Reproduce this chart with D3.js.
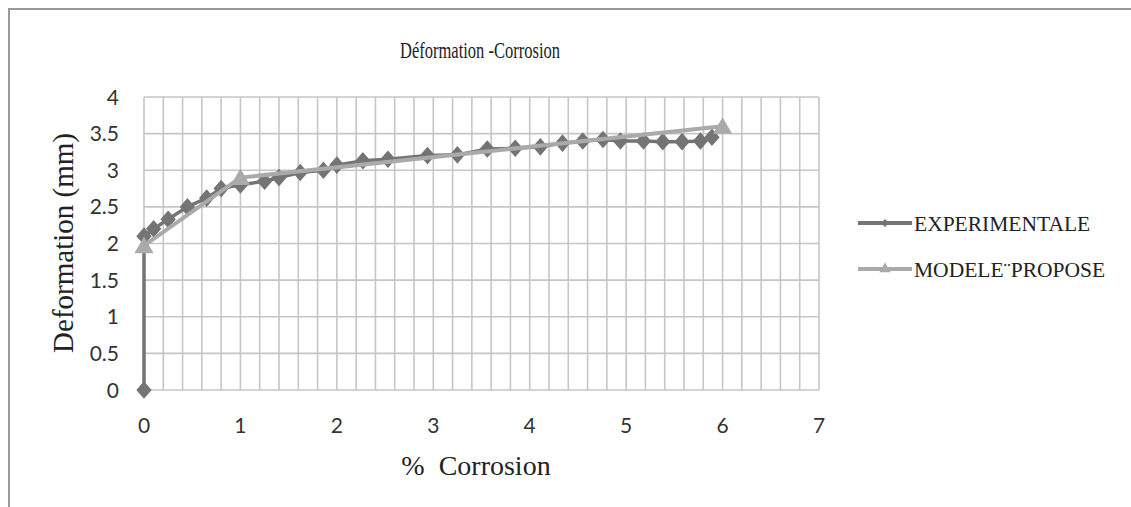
<!DOCTYPE html>
<html lang="fr">
<head>
  <meta charset="utf-8">
  <title>Déformation -Corrosion</title>
  <script src="https://d3js.org/d3.v7.min.js"></script>
  <style>
    * { margin: 0; padding: 0; }
    html, body { width: 1131px; height: 507px; background: #fff; overflow: hidden; }
    svg { display: block; }
    .serif { font-family: "Liberation Serif", "DejaVu Serif", serif; fill: #222; }
    .tick-lbl { font-family: Lato, "Open Sans", sans-serif; font-size: 21px; fill: #333; }
  </style>
</head>
<body>
<svg id="chart" width="1131" height="507"></svg>
<script>
  // Experimental measurements: % corrosion vs deformation (mm)
  const expX = [0, 0, 0.1, 0.25, 0.45, 0.65, 0.8, 1.0, 1.25, 1.4, 1.62, 1.86, 2.0, 2.27, 2.53, 2.94,
                3.25, 3.56, 3.85, 4.11, 4.34, 4.55, 4.76, 4.94, 5.18, 5.38, 5.58, 5.77, 5.89];
  const expY = [0, 2.1, 2.2, 2.33, 2.5, 2.62, 2.75, 2.8, 2.85, 2.9, 2.97, 3.0, 3.07, 3.13, 3.15, 3.2,
                3.21, 3.29, 3.3, 3.32, 3.37, 3.4, 3.42, 3.4, 3.4, 3.39, 3.39, 3.4, 3.45];

  // Proposed model
  const modX = [0, 1, 6];
  const modY = [1.97, 2.9, 3.6];

  const xTicks = [0, 1, 2, 3, 4, 5, 6, 7];
  const yTicks = [0, 0.5, 1, 1.5, 2, 2.5, 3, 3.5, 4];
  const seriesNames = ["EXPERIMENTALE", "MODELE\u00a8PROPOSE"];

  const svg = d3.select("#chart");
  const x = d3.scaleLinear().domain([0, 7]).range([144, 819]);
  const y = d3.scaleLinear().domain([0, 4]).range([390, 97]);

  // chart frame (only left and top edges are visible)
  svg.append("path")
    .attr("d", "M9,507 V9 H1131")
    .attr("fill", "none").attr("stroke", "#999").attr("stroke-width", 2);

  // grid: vertical lines every 0.2, horizontal every 0.5
  const grid = svg.append("g").attr("stroke", "#c6c6c6").attr("stroke-width", 1.6);
  grid.selectAll("line.v").data(d3.range(0, 36).map(i => i * 0.2))
    .join("line").attr("class", "v")
    .attr("x1", d => x(d)).attr("x2", d => x(d))
    .attr("y1", y(0)).attr("y2", y(4));
  grid.selectAll("line.h").data(yTicks)
    .join("line").attr("class", "h")
    .attr("x1", x(0)).attr("x2", x(7))
    .attr("y1", d => y(d)).attr("y2", d => y(d));

  // tick labels
  svg.append("g").selectAll("text").data(yTicks).join("text")
    .attr("class", "tick-lbl")
    .attr("x", 119).attr("y", d => y(d)).attr("dy", "0.36em")
    .attr("text-anchor", "end").text(d => d);
  svg.append("g").selectAll("text").data(xTicks).join("text")
    .attr("class", "tick-lbl")
    .attr("x", d => x(d)).attr("y", 433)
    .attr("text-anchor", "middle").text(d => d);

  // titles
  svg.append("text").attr("class", "serif")
    .attr("x", 400).attr("y", 58)
    .attr("font-size", 23)
    .attr("textLength", 160).attr("lengthAdjust", "spacingAndGlyphs")
    .text("Déformation -Corrosion");
  svg.append("text").attr("class", "serif")
    .attr("x", 476).attr("y", 475).attr("text-anchor", "middle")
    .attr("font-size", 28).attr("xml:space", "preserve").text("%  Corrosion");
  svg.append("text").attr("class", "serif")
    .attr("transform", "translate(73,243) rotate(-90)")
    .attr("text-anchor", "middle")
    .attr("font-size", 29).text("Deformation (mm)");

  const line = d3.line().x(d => x(d[0])).y(d => y(d[1]));
  const diamond = d3.symbol().type(d3.symbolDiamond2).size(150);
  const triangle = d3.symbol().type(d3.symbolTriangle).size(160);

  const expPts = expX.map((v, i) => [v, expY[i]]);
  const modPts = modX.map((v, i) => [v, modY[i]]);

  // experimental series
  svg.append("path").datum(expPts)
    .attr("d", line).attr("fill", "none")
    .attr("stroke", "#747474").attr("stroke-width", 3.5);
  svg.append("g").selectAll("path").data(expPts).join("path")
    .attr("transform", d => `translate(${x(d[0])},${y(d[1])}) scale(1,1.15)`)
    .attr("d", diamond).attr("fill", "#747474");

  // model series
  svg.append("path").datum(modPts)
    .attr("d", line).attr("fill", "none")
    .attr("stroke", "#aaa").attr("stroke-width", 4);
  svg.append("g").selectAll("path").data(modPts).join("path")
    .attr("transform", d => `translate(${x(d[0])},${y(d[1]) + 2})`)
    .attr("d", triangle).attr("fill", "#aaa");

  // legend
  const legend = svg.append("g");
  const colors = ["#747474", "#aaa"];
  const markers = [d3.symbol().type(d3.symbolDiamond2).size(40), d3.symbol().type(d3.symbolTriangle).size(55)];
  seriesNames.forEach((name, i) => {
    const ly = 223 + i * 46;
    legend.append("line")
      .attr("x1", 858).attr("x2", 912).attr("y1", ly).attr("y2", ly)
      .attr("stroke", colors[i]).attr("stroke-width", 4);
    legend.append("path")
      .attr("transform", `translate(885,${ly})`)
      .attr("d", markers[i]).attr("fill", colors[i]);
    legend.append("text").attr("class", "serif")
      .attr("x", 914).attr("y", ly).attr("dy", "0.35em")
      .attr("font-size", 21.5).text(name);
  });
</script>
</body>
</html>
